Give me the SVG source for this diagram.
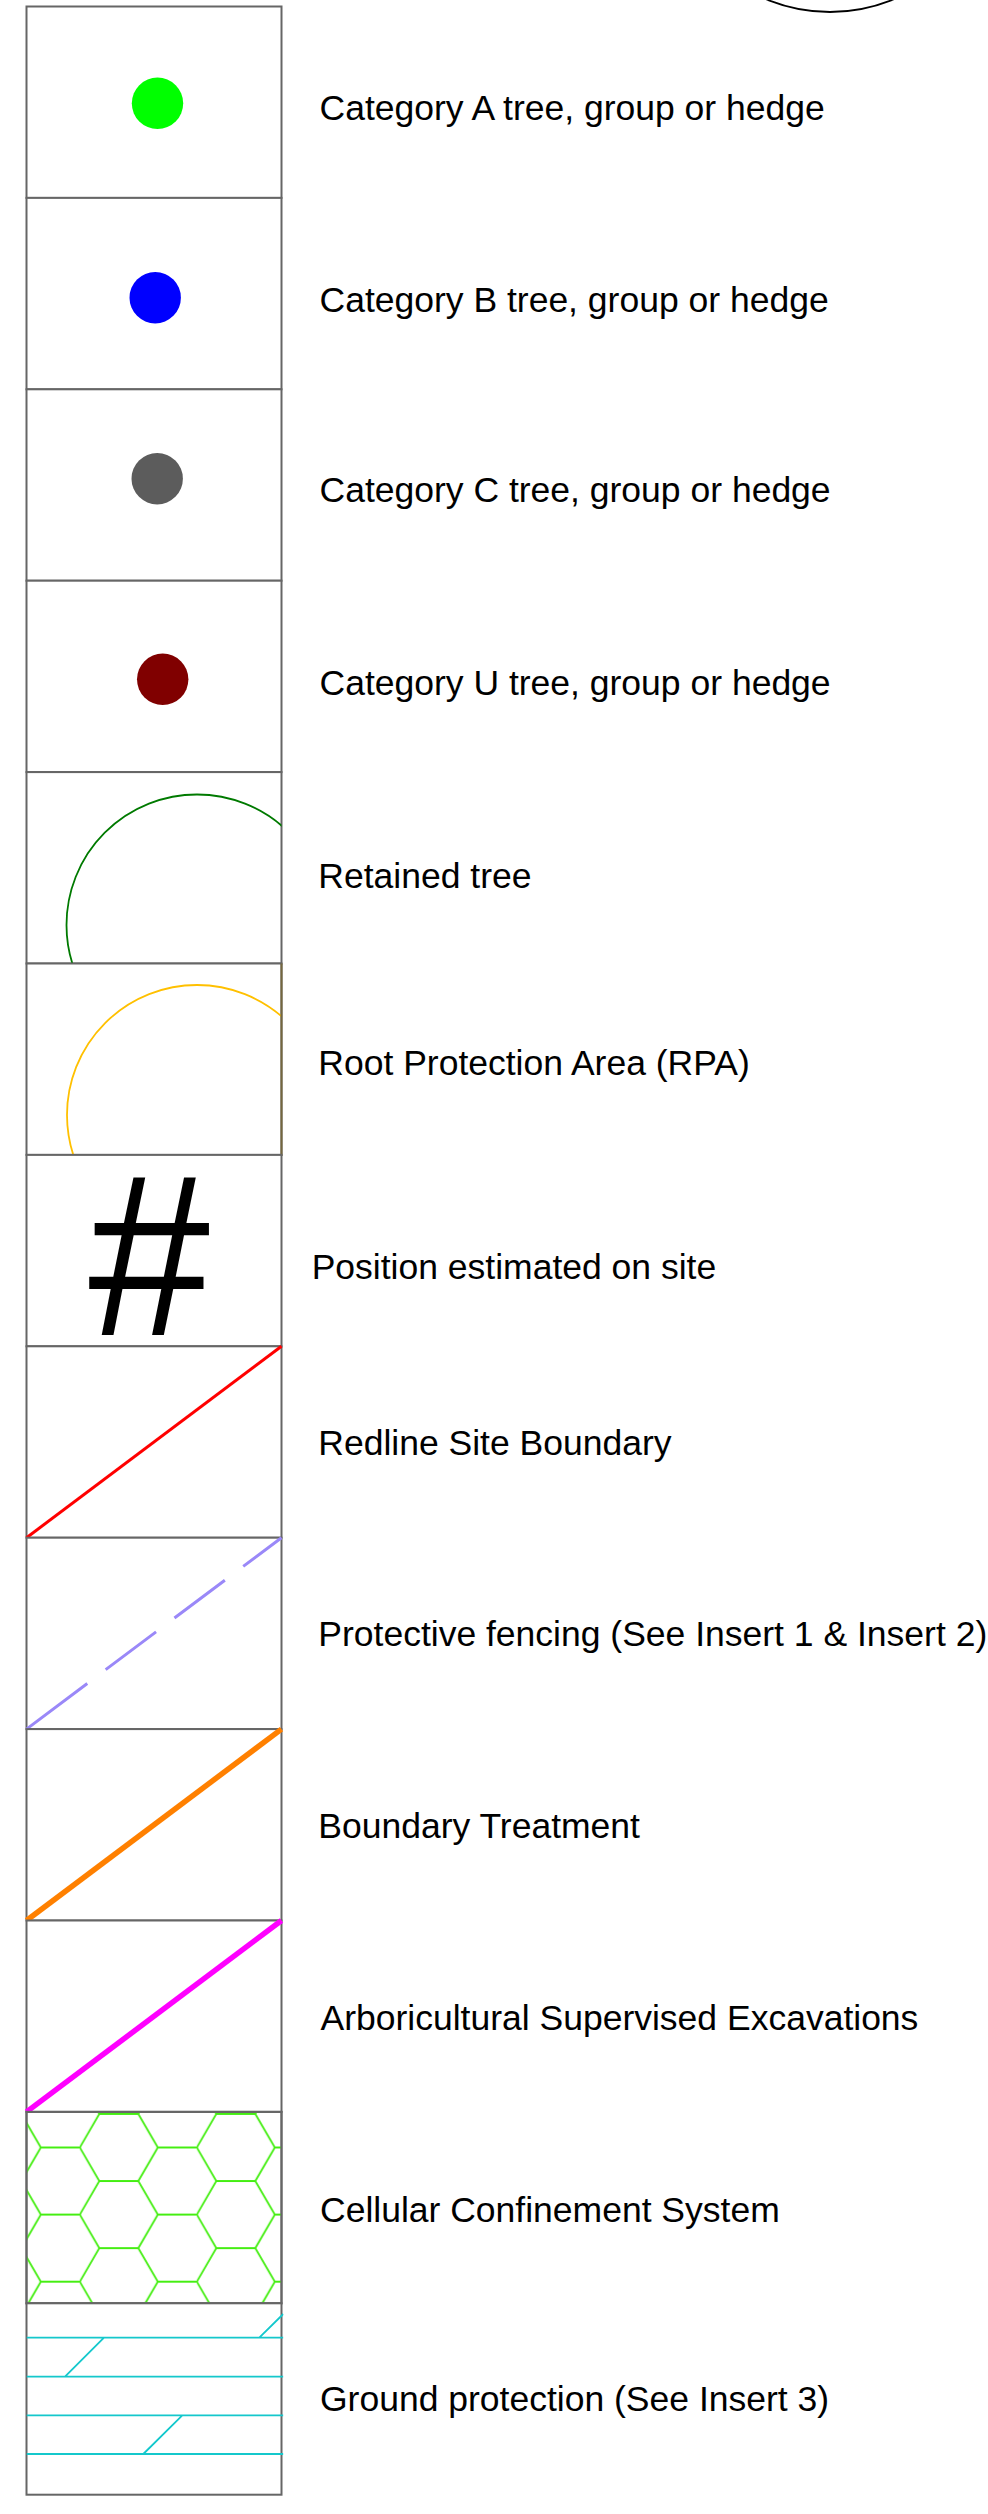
<svg xmlns="http://www.w3.org/2000/svg" width="988" height="2514" viewBox="0 0 988 2514">
  <style>
    .cell { fill: #ffffff; stroke: #666666; stroke-width: 2; }
    .frame { fill: none; stroke: #666666; stroke-width: 2; }
    .lbl { font-family: "Liberation Sans", Arial, sans-serif; font-size: 35.5px; fill: #000000; }
    .hatch { fill: none; stroke: #14c8cc; stroke-width: 1.8; }
  </style>
  <defs>
    <clipPath id="clipRet"><rect x="26.5" y="772.1" width="255" height="191.4"/></clipPath>
    <clipPath id="clipRpa"><rect x="26.5" y="963.5" width="255" height="191.4"/></clipPath>
    <clipPath id="clipGp"><rect x="26.5" y="2303.3" width="257" height="191.4"/></clipPath>
    <pattern id="hex" patternUnits="userSpaceOnUse" x="79.8" y="2147.5" width="117" height="67.1">
      <path d="M0,0 L19.5,33.55 L0,67.1 M19.5,33.55 L58.5,33.55 L78,0 L117,0 M58.5,33.55 L78,67.1 L117,67.1" fill="none" stroke="#44ee11" stroke-width="1.8"/>
    </pattern>
  </defs>

  <rect width="988" height="2514" fill="#ffffff"/>

  <g id="top-arc">
    <circle cx="830" cy="-154" r="166" fill="none" stroke="#000000" stroke-width="1.8"/>
  </g>

  <g id="row-cat-a">
    <rect class="cell" x="26.5" y="6.5" width="255" height="191.4"/>
    <circle cx="157.5" cy="103.3" r="25.7" fill="#00ff00"/>
    <text class="lbl" x="319.5" y="119.8">Category A tree, group or hedge</text>
  </g>

  <g id="row-cat-b">
    <rect class="cell" x="26.5" y="197.9" width="255" height="191.4"/>
    <circle cx="155.2" cy="297.7" r="25.7" fill="#0000ff"/>
    <text class="lbl" x="319.5" y="311.5">Category B tree, group or hedge</text>
  </g>

  <g id="row-cat-c">
    <rect class="cell" x="26.5" y="389.3" width="255" height="191.4"/>
    <circle cx="157.2" cy="478.7" r="25.7" fill="#5c5c5c"/>
    <text class="lbl" x="319.5" y="502.2">Category C tree, group or hedge</text>
  </g>

  <g id="row-cat-u">
    <rect class="cell" x="26.5" y="580.7" width="255" height="191.4"/>
    <circle cx="162.7" cy="679.3" r="25.7" fill="#800000"/>
    <text class="lbl" x="319.5" y="694.8">Category U tree, group or hedge</text>
  </g>

  <g id="row-retained">
    <rect class="cell" x="26.5" y="772.1" width="255" height="191.4"/>
    <circle cx="197" cy="925" r="130.5" fill="none" stroke="#007a00" stroke-width="1.8" clip-path="url(#clipRet)"/>
    <text class="lbl" x="318.3" y="887.7">Retained tree</text>
  </g>

  <g id="row-rpa">
    <rect class="cell" x="26.5" y="963.5" width="255" height="191.4"/>
    <circle cx="197" cy="1115" r="130" fill="none" stroke="#ffc000" stroke-width="1.8" clip-path="url(#clipRpa)"/>
    <polyline points="281.5,963.5 281.5,1154.9 26.5,1154.9" fill="none" stroke="#74673f" stroke-width="2"/>
    <text class="lbl" x="318.3" y="1075">Root Protection Area (RPA)</text>
  </g>

  <g id="row-position">
    <rect class="cell" x="26.5" y="1154.9" width="255" height="191.4"/>
    <text transform="translate(149.2,1335) scale(1,1.055)" x="0" y="0" text-anchor="middle" font-family="'Liberation Sans', Arial, sans-serif" font-size="219" fill="#000000">#</text>
    <text class="lbl" x="311.7" y="1279.3">Position estimated on site</text>
  </g>

  <g id="row-redline">
    <rect class="cell" x="26.5" y="1346.3" width="255" height="191.4"/>
    <line x1="26.5" y1="1537.7" x2="281.5" y2="1346.3" stroke="#ff0000" stroke-width="3"/>
    <text class="lbl" x="318.3" y="1455">Redline Site Boundary</text>
  </g>

  <g id="row-fencing">
    <rect class="cell" x="26.5" y="1537.7" width="255" height="191.4"/>
    <line x1="26.5" y1="1729.1" x2="281.5" y2="1537.7" stroke="#9a88f8" stroke-width="3" stroke-dasharray="76 23 63 23 63 23 63 23"/>
    <text class="lbl" x="318.3" y="1646.3">Protective fencing (See Insert 1 &amp; Insert 2)</text>
  </g>

  <g id="row-boundary">
    <rect class="cell" x="26.5" y="1729.1" width="255" height="191.4"/>
    <line x1="26.5" y1="1920.5" x2="281.5" y2="1729.1" stroke="#ff8000" stroke-width="5.5"/>
    <text class="lbl" x="318.3" y="1837.6">Boundary Treatment</text>
  </g>

  <g id="row-excavations">
    <rect class="cell" x="26.5" y="1920.5" width="255" height="191.4"/>
    <line x1="26.5" y1="2111.9" x2="281.5" y2="1920.5" stroke="#ff00ff" stroke-width="5.5"/>
    <text class="lbl" x="320.5" y="2029.5">Arboricultural Supervised Excavations</text>
  </g>

  <g id="row-cellular">
    <rect class="cell" x="26.5" y="2111.9" width="255" height="191.4"/>
    <rect x="26.5" y="2111.9" width="255" height="191.4" fill="url(#hex)"/>
    <rect class="frame" x="26.5" y="2111.9" width="255" height="191.4"/>
    <text class="lbl" x="320" y="2222">Cellular Confinement System</text>
  </g>

  <g id="row-ground">
    <rect class="cell" x="26.5" y="2303.3" width="255" height="191.4"/>
    <g clip-path="url(#clipGp)">
      <path class="hatch" d="M26.5,2337.7 H283.3 M26.5,2376.7 H283.3 M26.5,2415.3 H283.3 M26.5,2454 H283.3 M259.3,2337.7 L283.3,2314 M65,2376.7 L104,2337.7 M143.3,2454 L182.3,2415.3"/>
    </g>
    <text class="lbl" x="320" y="2410.7">Ground protection (See Insert 3)</text>
  </g>
</svg>
